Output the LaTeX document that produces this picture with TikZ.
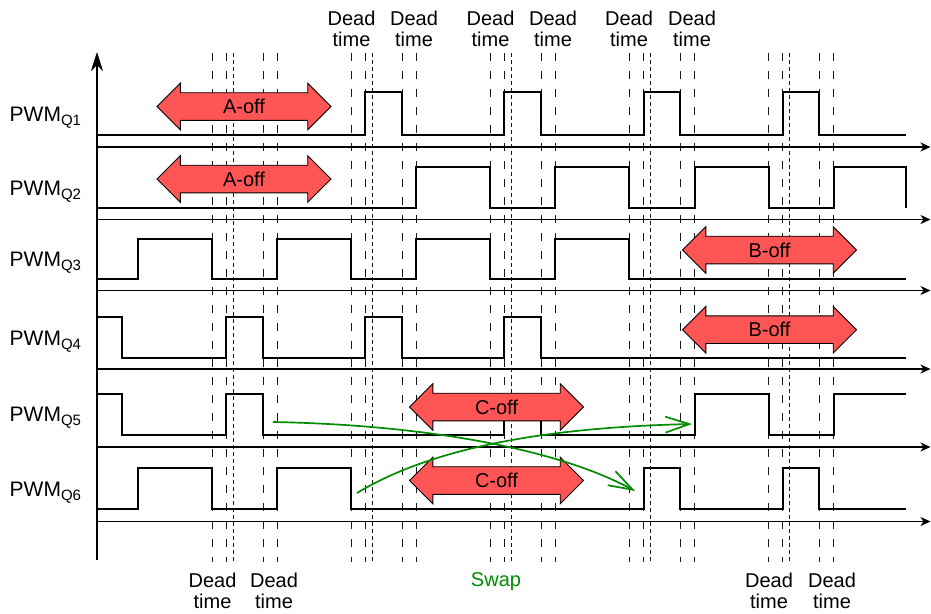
\documentclass[tikz,border=0pt]{standalone}
\usepackage{fontspec}
\setmainfont{Liberation Sans}
\usetikzlibrary{arrows.meta, shapes.arrows}
\definecolor{offred}{RGB}{255,85,85}
\definecolor{swapgreen}{RGB}{0,140,0}
\newcommand{\pwmq}[1]{PWM\raisebox{-4pt}{\fontsize{15}{15}\selectfont Q#1}}

\begin{document}
\begin{tikzpicture}[x=1pt, y=-1pt,
		signal/.style={line width=2pt, line join=miter},
		timeaxis/.style={line width=1.2pt, -{Stealth[length=10pt, width=9pt, inset=3pt]}},
		deadline/.style={line width=0.9pt, black!90, dash pattern=on 8pt off 10pt},
		midline/.style={line width=0.9pt, black!90, dash pattern=on 4pt off 3pt},
		offarrow/.style={double arrow, draw, line width=0.8pt, fill=offred, double arrow head extend=9.5pt, minimum height=174pt, inner xsep=0pt, inner ysep=6.3pt, text height=14.3pt, text depth=0pt, font=\fontsize{20}{20.7}\selectfont},
		swaparrow/.style={swapgreen, line width=1.7pt, -{Straight Barb[length=24pt, width=16pt]}},
		dtlabel/.style={align=center, inner sep=0pt, anchor=north, font=\fontsize{20}{20.7}\selectfont},
		pwmlabel/.style={inner sep=0pt, anchor=base west, font=\fontsize{21}{22}\selectfont}]
			\useasboundingbox (0,0) rectangle (931,613);
			
			\foreach \x in {212,351,490,629,768.5, 226,365,504,643.5,782.5, 263,402,541,680,819, 277,416,555,694.5,833.5}
				\draw[deadline] (\x,53) -- (\x,562);
			\foreach \x in {233.5,372.5,511.5,650.5,789.5}
				\draw[midline] (\x,53) -- (\x,562);
			
			\draw[line width=1.2pt, -{Stealth[length=19pt, width=12pt, inset=6pt]}] (97,560) -- (97,52);
			\foreach \y in {147,219.5,290.5,369,447,521.5}
				\draw[timeaxis] (97,\y) -- (930.5,\y);
			
			\draw[signal] (97,135) -| (365,92) -| (402,135) -| (504,92) -| (541,135) -| (643.5,92) -| (680,135) -| (782.5,92) -| (819,135) -- (906,135);
			\draw[signal] (97,207.5) -| (416,167) -| (490,207.5) -| (555,167) -| (629,207.5) -| (694.5,167) -| (768.5,207.5) -| (833.5,167) -| (906,207.5);
			\draw[signal] (97,278.5) -| (137.5,238.5) -| (212,278.5) -| (277,238.5) -| (351,278.5) -| (416,238.5) -| (490,278.5) -| (555,238.5) -| (629,278.5) -- (906,278.5);
			\draw[signal] (97,317) -| (122,358) -| (226,317) -| (263,358) -| (365,317) -| (402,358) -| (504,317) -| (541,358) -- (906,358);
			\draw[signal] (97,394) -| (122,435) -| (226,394) -| (263,435) -| (504,394) -| (541,435) -| (694.5,394) -| (768.5,435) -| (833.5,394) -- (906,394);
			\draw[signal] (97,509) -| (137.5,468) -| (212,509) -| (277,468) -| (351,509) -| (643.5,468) -| (680,509) -| (782.5,468) -| (819,509) -- (906,509);
			
			\node (q1) [pwmlabel] at (9.5,121.7) {\pwmq{1}};
			\node (q2) [pwmlabel] at (9.5,195) {\pwmq{2}};
			\node (q3) [pwmlabel] at (9.5,266.7) {\pwmq{3}};
			\node (q4) [pwmlabel] at (9.5,345) {\pwmq{4}};
			\node (q5) [pwmlabel] at (9.5,421.7) {\pwmq{5}};
			\node (q6) [pwmlabel] at (9.5,496.7) {\pwmq{6}};
			
			\node (aoff1) [offarrow] at (244,106.5) {A-off};
			\node (aoff2) [offarrow] at (244,179) {A-off};
			\node (boff1) [offarrow] at (769.5,250) {B-off};
			\node (boff2) [offarrow] at (769.5,329.7) {B-off};
			\node (coff1) [offarrow] at (496.5,407) {C-off};
			\node (coff2) [offarrow] at (496.5,480.5) {C-off};
			
			\node (dt1) [dtlabel] at (351.5,10.7) {Dead\\time};
			\node (dt2) [dtlabel] at (414,10.7) {Dead\\time};
			\node (dt3) [dtlabel] at (490.5,10.7) {Dead\\time};
			\node (dt4) [dtlabel] at (553,10.7) {Dead\\time};
			\node (dt5) [dtlabel] at (629,10.7) {Dead\\time};
			\node (dt6) [dtlabel] at (692,10.7) {Dead\\time};
			\node (dt7) [dtlabel] at (212.5,572.7) {Dead\\time};
			\node (dt8) [dtlabel] at (274,572.7) {Dead\\time};
			\node (dt9) [dtlabel] at (769,572.7) {Dead\\time};
			\node (dt10) [dtlabel] at (832,572.7) {Dead\\time};
			\node (swap) [dtlabel, swapgreen] at (496,572.7) {Swap};
			
			\coordinate (q5from) at (273,422);
			\coordinate (q5to) at (635,491);
			\coordinate (q6from) at (357,493);
			\coordinate (q6to) at (692,424);
			\draw[swaparrow] (q5from) .. controls (430,425) and (560,450) .. (q5to);
			\draw[swaparrow] (q6from) .. controls (420,455) and (520,428) .. (q6to);
		\end{tikzpicture}
\end{document}
